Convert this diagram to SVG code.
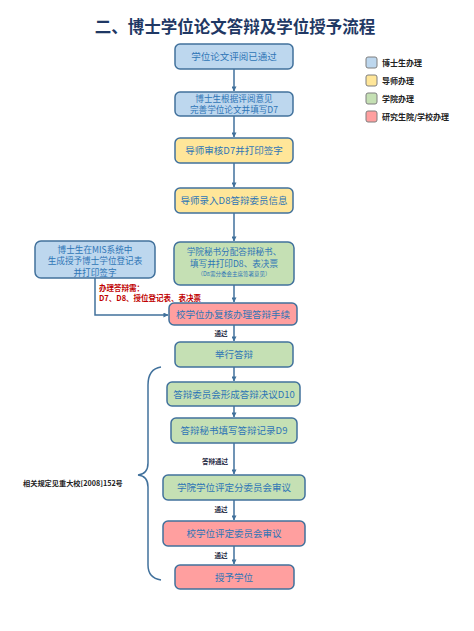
<svg xmlns="http://www.w3.org/2000/svg" width="474" height="631" viewBox="0 0 474 631">
<defs>
<marker id="ah" viewBox="0 0 6 6" refX="5.5" refY="3" markerWidth="5" markerHeight="5" orient="auto" markerUnits="userSpaceOnUse">
<path d="M0,0 L6,3 L0,6 z" fill="#41719c"/>
</marker>
<style>
text{font-family:"Noto Sans CJK SC","Noto Sans",sans-serif;}
.box rect{stroke:#41719c;stroke-width:1.5;}
.b{fill:#bdd7ee;} .y{fill:#ffe699;} .g{fill:#c5e0b4;} .p{fill:#ff9f9f;}
.t{font-size:9.5px;fill:#2e75b6;text-anchor:middle;}
.m{font-size:8.6px;fill:#2e75b6;text-anchor:middle;}
.s{font-size:5.5px;fill:#2e75b6;text-anchor:middle;}
.lbl{font-size:6.5px;font-weight:bold;fill:#1f2a44;text-anchor:middle;}
.lg rect{stroke:#7f7f7f;stroke-width:1;}
.lg text{font-size:8px;font-weight:bold;fill:#222;}
.con{stroke:#41719c;stroke-width:1.5;fill:none;}
</style>
</defs>
<rect width="474" height="631" fill="#fff"/>
<text x="235" y="33" text-anchor="middle" font-size="16.5" font-weight="bold" fill="#1f3864">二、博士学位论文答辩及学位授予流程</text>

<g id="connectors">
<line class="con" x1="234" y1="69" x2="234" y2="91" marker-end="url(#ah)"/>
<line class="con" x1="234" y1="116" x2="234" y2="137" marker-end="url(#ah)"/>
<line class="con" x1="234" y1="163" x2="234" y2="187" marker-end="url(#ah)"/>
<line class="con" x1="234" y1="213" x2="234" y2="241" marker-end="url(#ah)"/>
<line class="con" x1="234" y1="285" x2="234" y2="302" marker-end="url(#ah)"/>
<polyline class="con" points="95,278 95,315 168,315" marker-end="url(#ah)"/>
<line class="con" x1="234" y1="325" x2="234" y2="341" marker-end="url(#ah)"/>
<line class="con" x1="234" y1="367" x2="234" y2="381" marker-end="url(#ah)"/>
<line class="con" x1="234" y1="406" x2="234" y2="417" marker-end="url(#ah)"/>
<line class="con" x1="234" y1="443" x2="234" y2="474" marker-end="url(#ah)"/>
<line class="con" x1="234" y1="500" x2="234" y2="520" marker-end="url(#ah)"/>
<line class="con" x1="234" y1="546" x2="234" y2="564" marker-end="url(#ah)"/>
<text class="lbl" x="221" y="336">通过</text>
<text class="lbl" x="215" y="464">答辩通过</text>
<text class="lbl" x="221" y="512">通过</text>
<text class="lbl" x="221" y="558">通过</text>
<path class="con" d="M161,367 Q148,369 148,385 L148,463 Q148,474 138,475 Q148,476 148,487 L148,565 Q148,578 161,580"/>
</g>

<g id="n1" class="box"><rect class="b" x="175" y="44" width="118" height="25" rx="5"/><text class="t" x="234" y="60">学位论文评阅已通过</text></g>
<g id="n2" class="box"><rect class="b" x="175" y="92" width="118" height="24" rx="5"/><text class="m" x="234" y="102">博士生根据评阅意见</text><text class="m" x="234" y="113">完善学位论文并填写D7</text></g>
<g id="n3" class="box"><rect class="y" x="175" y="138" width="118" height="25" rx="5"/><text class="t" x="234" y="154">导师审核D7并打印签字</text></g>
<g id="n4" class="box"><rect class="y" x="175" y="188" width="118" height="25" rx="5"/><text class="t" x="234" y="204">导师录入D8答辩委员信息</text></g>
<g id="n5" class="box"><rect class="g" x="174" y="242" width="120" height="43" rx="6"/><text class="m" x="234" y="255">学院秘书分配答辩秘书、</text><text class="m" x="234" y="266.5">填写并打印D8、表决票</text><text class="s" x="234" y="276">（D8需分委会主席签署意见）</text></g>
<g id="n6" class="box"><rect class="b" x="35" y="241" width="120" height="37" rx="6"/><text class="m" x="95" y="252.5">博士生在MIS系统中</text><text class="m" x="95" y="264">生成授予博士学位登记表</text><text class="m" x="95" y="275.5">并打印签字</text></g>
<g id="note1"><text x="99" y="291" font-size="7.5" font-weight="bold" fill="#c00000">办理答辩需：</text><text x="99" y="300.5" font-size="7.5" font-weight="bold" fill="#c00000">D7、D8、授位登记表、表决票</text></g>
<g id="n7" class="box"><rect class="p" x="169" y="303" width="128" height="22" rx="5"/><text class="t" x="233" y="317.5">校学位办复核办理答辩手续</text></g>
<g id="n8" class="box"><rect class="g" x="175" y="342" width="118" height="25" rx="5"/><text class="t" x="234" y="358">举行答辩</text></g>
<g id="n9" class="box"><rect class="g" x="167" y="382" width="133" height="24" rx="5"/><text class="t" x="234" y="397.5">答辩委员会形成答辩决议D10</text></g>
<g id="n10" class="box"><rect class="g" x="171" y="418" width="126" height="25" rx="5"/><text class="t" x="234" y="434">答辩秘书填写答辩记录D9</text></g>
<g id="n11" class="box"><rect class="g" x="163" y="475" width="142" height="25" rx="5"/><text class="t" x="234" y="491">学院学位评定分委员会审议</text></g>
<g id="n12" class="box"><rect class="p" x="163" y="521" width="142" height="25" rx="5"/><text class="t" x="234" y="537">校学位评定委员会审议</text></g>
<g id="n13" class="box"><rect class="p" x="175" y="565" width="119" height="24" rx="5"/><text class="t" x="234" y="580.5">授予学位</text></g>
<g id="note2"><text x="23" y="486" font-size="7.2" font-weight="bold" fill="#222">相关规定见重大校[2008]152号</text></g>

<g id="legend" class="lg">
<rect class="b" x="366" y="57" width="11" height="11" rx="2"/><text x="382" y="66">博士生办理</text>
<rect class="y" x="366" y="75" width="11" height="11" rx="2"/><text x="382" y="84">导师办理</text>
<rect class="g" x="366" y="93" width="11" height="11" rx="2"/><text x="382" y="102">学院办理</text>
<rect class="p" x="366" y="111" width="11" height="11" rx="2"/><text x="382" y="120">研究生院/学校办理</text>
</g>
</svg>
